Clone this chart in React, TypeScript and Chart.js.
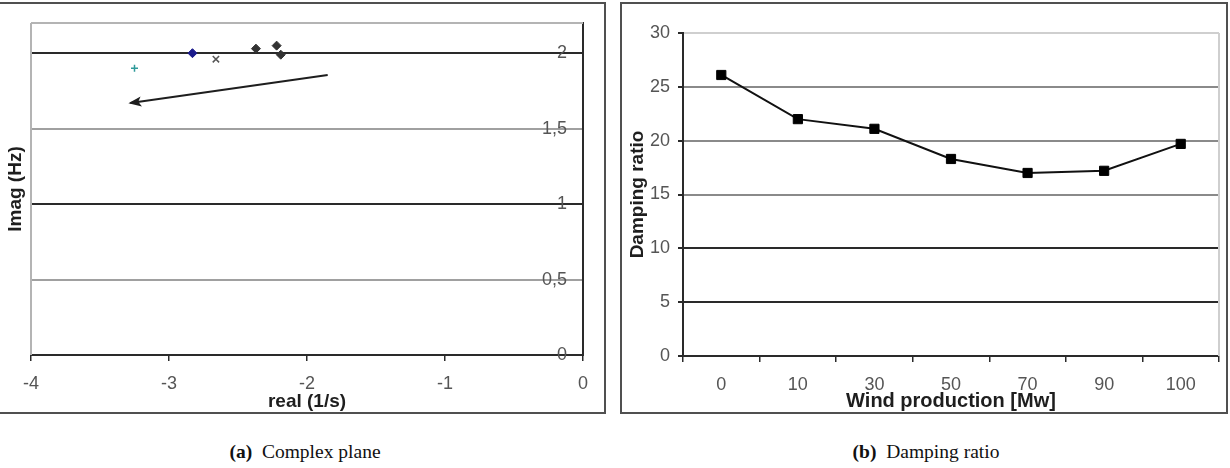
import React, { useEffect, useRef } from "react";
import { Chart, registerables } from "chart.js";

Chart.register(...registerables);

// ---- (a) Complex plane: eigenvalues, real part [1/s] vs imaginary part [Hz]
const eigenPlus = [{ x: -3.25, y: 1.9 }];
const eigenBlue = [{ x: -2.83, y: 2.0 }];
const eigenCross = [{ x: -2.66, y: 1.96 }];
const eigenDiamonds = [
  { x: -2.37, y: 2.03 },
  { x: -2.22, y: 2.05 },
  { x: -2.19, y: 1.99 },
];
// direction in which the eigenvalues move
const trendArrow = [
  { x: -1.85, y: 1.855 },
  { x: -3.28, y: 1.67 },
];
const realRange = [-4, 0];
const realTickStep = 1;
const imagRange = [0, 2.2];
const imagTickStep = 0.5;

// ---- (b) Damping ratio vs wind production
const windProduction = ["0", "10", "30", "50", "70", "90", "100"];
const dampingRatio = [26.1, 22.0, 21.1, 18.3, 17.0, 17.2, 19.7];
const dampingRange = [0, 30];
const dampingTickStep = 5;

const SANS = "'Liberation Sans', Arial, sans-serif";
const tickFont = { family: SANS, size: 18 };
const titleFont = { family: SANS, size: 19, weight: "bold" as const };
const tickColor = "#555";
const titleColor = "#1e1e1e";
const axisColor = "#2a2a2a";

const planeGridColor = (v: number) =>
  Math.abs(v - Math.round(v)) < 1e-6 ? "#2a2a2a" : "#a0a0a0";
const dampingGridColor = (v: number) =>
  v <= 10 ? "#2a2a2a" : v >= 30 ? "#cfcfcf" : "#8a8a8a";

// light frame on the plot-area sides that carry no axis line
const plotFrame = (sides: string[], color: string) => ({
  id: "plotFrame",
  beforeDatasetsDraw(chart: any) {
    const { ctx, chartArea: a } = chart;
    ctx.save();
    ctx.strokeStyle = color;
    ctx.lineWidth = 2;
    ctx.beginPath();
    if (sides.includes("top")) {
      ctx.moveTo(a.left, a.top);
      ctx.lineTo(a.right, a.top);
    }
    if (sides.includes("left")) {
      ctx.moveTo(a.left, a.top);
      ctx.lineTo(a.left, a.bottom);
    }
    if (sides.includes("right")) {
      ctx.moveTo(a.right, a.top);
      ctx.lineTo(a.right, a.bottom);
    }
    ctx.stroke();
    ctx.restore();
  },
});

// filled arrow head at the last point of any dataset flagged with `arrow`
const arrowHead = {
  id: "arrowHead",
  afterDatasetsDraw(chart: any) {
    const { ctx } = chart;
    chart.data.datasets.forEach((ds: any, i: number) => {
      if (!ds.arrow) return;
      const pts = chart.getDatasetMeta(i).data;
      const a = pts[pts.length - 2];
      const b = pts[pts.length - 1];
      const ang = Math.atan2(b.y - a.y, b.x - a.x);
      ctx.save();
      ctx.fillStyle = ds.borderColor;
      ctx.translate(b.x, b.y);
      ctx.rotate(ang);
      ctx.beginPath();
      ctx.moveTo(2, 0);
      ctx.lineTo(-11, -5);
      ctx.lineTo(-8, 0);
      ctx.lineTo(-11, 5);
      ctx.closePath();
      ctx.fill();
      ctx.restore();
    });
  },
};

function ComplexPlane() {
  const ref = useRef<HTMLCanvasElement>(null);
  useEffect(() => {
    const chart = new Chart(ref.current!, {
      type: "scatter",
      data: {
        datasets: [
          {
            data: trendArrow,
            showLine: true,
            borderColor: "#1e1e1e",
            borderWidth: 2,
            pointRadius: 0,
            arrow: true,
          } as any,
          {
            data: eigenPlus,
            pointStyle: "cross",
            pointRadius: 3.5,
            borderColor: "#2f9a9a",
            borderWidth: 1.5,
          },
          {
            data: eigenBlue,
            pointStyle: "rectRot",
            pointRadius: 4.5,
            backgroundColor: "#1c1c8c",
            borderColor: "#1c1c8c",
            borderWidth: 1,
          },
          {
            data: eigenCross,
            pointStyle: "crossRot",
            pointRadius: 4.5,
            borderColor: "#555",
            borderWidth: 1.5,
          },
          {
            data: eigenDiamonds,
            pointStyle: "rectRot",
            pointRadius: 4.5,
            backgroundColor: "#333",
            borderColor: "#333",
            borderWidth: 1,
          },
        ],
      },
      options: {
        animation: false,
        responsive: false,
        layout: { padding: { left: 0, top: 23, right: 22, bottom: 3 } },
        plugins: { legend: { display: false }, tooltip: { enabled: false } },
        scales: {
          x: {
            type: "linear",
            min: realRange[0],
            max: realRange[1],
            ticks: { stepSize: realTickStep, color: tickColor, font: tickFont, padding: 12 },
            grid: { drawOnChartArea: false, drawTicks: true, tickLength: 6, color: axisColor, lineWidth: 1.5 },
            border: { color: axisColor, width: 2 },
            title: { display: true, text: "real (1/s)", color: titleColor, font: titleFont, padding: { top: 0, bottom: 0 } },
            afterFit: (s: any) => {
              s.height = 58;
            },
          },
          y: {
            type: "linear",
            position: "right",
            min: imagRange[0],
            max: imagRange[1],
            afterBuildTicks: (s: any) => {
              s.ticks = s.ticks.filter((t: any) => t.value <= 2 + 1e-9);
            },
            ticks: {
              stepSize: imagTickStep,
              mirror: true,
              padding: -16,
              color: tickColor,
              font: tickFont,
              callback: (v: any) => String(v).replace(".", ","),
            },
            grid: {
              color: (c: any) => planeGridColor(c.tick ? c.tick.value : 0),
              lineWidth: 2,
              drawTicks: false,
            },
            border: { color: axisColor, width: 2 },
            afterFit: (s: any) => {
              s.width = 1;
            },
          },
          yTitle: {
            type: "linear",
            position: "left",
            ticks: { display: false },
            grid: { display: false },
            border: { display: false },
            title: { display: true, text: "Imag (Hz)", color: titleColor, font: titleFont, padding: { top: 4, bottom: 0 } },
            afterFit: (s: any) => {
              s.width = 31;
            },
          },
        },
      } as any,
      plugins: [plotFrame(["top", "left"], "#b4b4b4"), arrowHead],
    });
    return () => chart.destroy();
  }, []);
  return <canvas ref={ref} width={606} height={416} style={{ position: "absolute", left: 0, top: 0 }} />;
}

function DampingChart() {
  const ref = useRef<HTMLCanvasElement>(null);
  useEffect(() => {
    const chart = new Chart(ref.current!, {
      type: "line",
      data: {
        labels: windProduction,
        datasets: [
          {
            data: dampingRatio,
            borderColor: "#111",
            borderWidth: 2,
            tension: 0,
            pointStyle: "rect",
            pointRadius: 6.5,
            pointBackgroundColor: "#000",
            pointBorderColor: "#000",
            pointBorderWidth: 1,
          },
        ],
      },
      options: {
        animation: false,
        responsive: false,
        layout: { padding: { left: 0, top: 33, right: 11, bottom: 3 } },
        plugins: { legend: { display: false }, tooltip: { enabled: false } },
        scales: {
          x: {
            offset: true,
            ticks: { color: tickColor, font: tickFont, padding: 12 },
            grid: { offset: true, drawOnChartArea: false, drawTicks: true, tickLength: 6, color: axisColor, lineWidth: 1.5 },
            border: { color: axisColor, width: 2 },
            title: { display: true, text: "Wind production [Mw]", color: titleColor, font: { ...titleFont, size: 20 }, padding: { top: 0, bottom: 0 } },
            afterFit: (s: any) => {
              s.height = 57;
            },
          },
          y: {
            min: dampingRange[0],
            max: dampingRange[1],
            ticks: { stepSize: dampingTickStep, color: tickColor, font: tickFont, padding: 8 },
            grid: {
              color: (c: any) => dampingGridColor(c.tick ? c.tick.value : 0),
              tickColor: axisColor,
              tickLength: 5,
              lineWidth: 2,
            },
            border: { color: axisColor, width: 2 },
            title: { display: true, text: "Damping ratio", color: titleColor, font: titleFont, padding: { top: 10, bottom: 0 } },
            afterFit: (s: any) => {
              s.width = 67;
            },
          },
        },
      } as any,
      plugins: [plotFrame(["right"], "#cfcfcf")],
    });
    return () => chart.destroy();
  }, []);
  return <canvas ref={ref} width={614} height={416} style={{ position: "absolute", left: 616, top: 0 }} />;
}

const captionStyle: React.CSSProperties = {
  position: "absolute",
  top: 438,
  textAlign: "center",
  fontFamily: "'Liberation Serif', 'DejaVu Serif', serif",
  fontSize: 19.5,
  lineHeight: "28px",
  color: "#111",
};

export default function App() {
  return (
    <div style={{ position: "absolute", left: 0, top: 0, width: 1230, height: 468, background: "#fff", overflow: "hidden" }}>
      <div style={{ position: "absolute", left: -2, top: 2, width: 608, height: 412, border: "2px solid #505050", boxSizing: "border-box" }} />
      <div style={{ position: "absolute", left: 620, top: 2, width: 608, height: 412, border: "2px solid #505050", boxSizing: "border-box" }} />
      <ComplexPlane />
      <DampingChart />
      <div style={{ ...captionStyle, left: 0, width: 610 }}>
        <b>(a)</b>&nbsp; Complex plane
      </div>
      <div style={{ ...captionStyle, left: 621, width: 610 }}>
        <b>(b)</b>&nbsp; Damping ratio
      </div>
    </div>
  );
}
